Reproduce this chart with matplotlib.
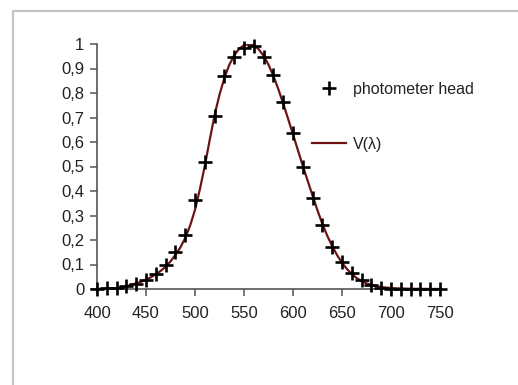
import matplotlib
matplotlib.use("Agg")
import matplotlib.pyplot as plt
from matplotlib.patches import Rectangle

plt.rcParams['font.family'] = ['Liberation Sans', 'DejaVu Sans']

# CIE photopic luminosity function V(lambda), 5 nm steps
v_wl = list(range(400, 755, 5))
v_vals = [0.000396, 0.00064, 0.00121, 0.00218, 0.0040, 0.0073, 0.0116, 0.01684,
          0.023, 0.0298, 0.038, 0.048, 0.060, 0.0739, 0.09098, 0.1126, 0.13902,
          0.1693, 0.20802, 0.2586, 0.323, 0.4073, 0.503, 0.6082, 0.710, 0.7932,
          0.862, 0.91485, 0.954, 0.9803, 0.99495, 1.0, 0.995, 0.9786, 0.952,
          0.9154, 0.870, 0.8163, 0.757, 0.6949, 0.631, 0.5668, 0.503, 0.4412,
          0.381, 0.321, 0.265, 0.217, 0.175, 0.1382, 0.107, 0.0816, 0.061,
          0.04458, 0.032, 0.0232, 0.017, 0.01192, 0.00821, 0.005723, 0.004102,
          0.002929, 0.002091, 0.001484, 0.001047, 0.00074, 0.00052, 0.000361,
          0.000249, 0.000172, 0.00012]

# photometer head measurements, 10 nm steps
head_wl = list(range(400, 760, 10))
head_vals = [0.0, 0.003, 0.006, 0.012, 0.022, 0.038, 0.062, 0.10, 0.152, 0.222,
             0.362, 0.518, 0.706, 0.868, 0.946, 0.985, 0.99, 0.948, 0.874, 0.765,
             0.638, 0.50, 0.372, 0.262, 0.173, 0.11, 0.066, 0.035, 0.016, 0.006,
             0.0, 0.0, 0.0, 0.0, 0.0, 0.0]

x_ticks = [400, 450, 500, 550, 600, 650, 700, 750]
y_ticks = [0, 0.1, 0.2, 0.3, 0.4, 0.5, 0.6, 0.7, 0.8, 0.9, 1]
y_labels = ["0", "0,1", "0,2", "0,3", "0,4", "0,5", "0,6", "0,7", "0,8", "0,9", "1"]

W, H = 518, 385
fig = plt.figure(figsize=(W / 100, H / 100), dpi=100)
fig.patch.set_facecolor('white')

# outer grey frame
fig.patches.append(Rectangle((13 / W, -0.1), 2.0, 1 - 11 / H + 0.1,
                             transform=fig.transFigure, fill=False,
                             edgecolor='#c4c4c4', linewidth=1.6))

ax = fig.add_axes([97 / W, (H - 289) / H, 343 / W, 245 / H])
ax.set_xlim(400, 750)
ax.set_ylim(0, 1)

line, = ax.plot(v_wl, v_vals, color='#6e1414', linewidth=1.6, label='V(λ)', zorder=2)
pts, = ax.plot(head_wl, head_vals, linestyle='none', marker='+', markersize=9.5,
               markeredgewidth=1.9, color='black', label='photometer head',
               clip_on=False, zorder=3)

for s in ['top', 'right']:
    ax.spines[s].set_visible(False)
for s in ['left', 'bottom']:
    ax.spines[s].set_color('#555555')
    ax.spines[s].set_linewidth(1.2)

ax.set_xticks(x_ticks)
ax.set_xticklabels([str(t) for t in x_ticks])
ax.set_yticks(y_ticks)
ax.set_yticklabels(y_labels)
ax.tick_params(axis='both', direction='out', length=5, width=1.1, color='#555555',
               labelsize=12, labelcolor='#222222')
ax.tick_params(axis='x', pad=7)
ax.tick_params(axis='y', pad=4)

leg = ax.legend(handles=[pts, line], loc='upper left',
                bbox_to_anchor=(312 / W, 1 - 82 / H), bbox_transform=fig.transFigure,
                frameon=False, fontsize=11.5, handlelength=2.1, handletextpad=0.45,
                labelspacing=2.5, borderpad=0, borderaxespad=0)
for t in leg.get_texts():
    t.set_color('#222222')

fig.savefig('out.png', dpi=100)
